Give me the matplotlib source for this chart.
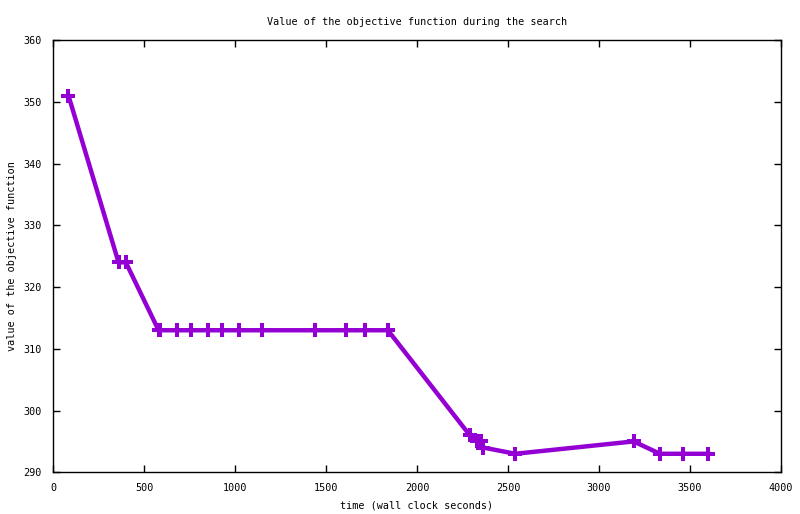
import matplotlib
matplotlib.use("Agg")
import matplotlib.pyplot as plt

times = [85, 360, 400, 580, 590, 680, 760, 850, 930, 1020, 1150, 1440, 1610,
         1715, 1840, 2290, 2330, 2350, 2365, 2540, 3190, 3335, 3460, 3600]
values = [351, 324, 324, 313, 313, 313, 313, 313, 313, 313, 313, 313, 313,
          313, 313, 296, 295, 295, 294, 293, 295, 293, 293, 293]

xticks = [0, 500, 1000, 1500, 2000, 2500, 3000, 3500, 4000]
yticks = [290, 300, 310, 320, 330, 340, 350, 360]

plt.rcParams['font.family'] = ['DejaVu Sans Mono']
fig = plt.figure(figsize=(8, 5.14), dpi=100)
ax = fig.add_axes([53/800, 1-472.3/514, (781-53)/800, (472.3-40)/514])
ax.plot(times, values, color='#9400D3', linewidth=3.2, marker='P',
        markersize=9.5, markeredgewidth=0)
ax.set_xlim(0, 4000)
ax.set_ylim(290, 360)
ax.set_xticks(xticks)
ax.set_yticks(yticks)
ax.tick_params(direction='in', length=5, width=1, top=True, right=True,
               labelsize=7.3, pad=8)
for s in ax.spines.values():
    s.set_linewidth(1)
ax.set_title('Value of the objective function during the search', fontsize=7.3, pad=11)
ax.set_xlabel('time (wall clock seconds)', fontsize=7.3, labelpad=5)
ax.set_ylabel('value of the objective function', fontsize=7.3, labelpad=5)
fig.savefig('out.png', dpi=100)
